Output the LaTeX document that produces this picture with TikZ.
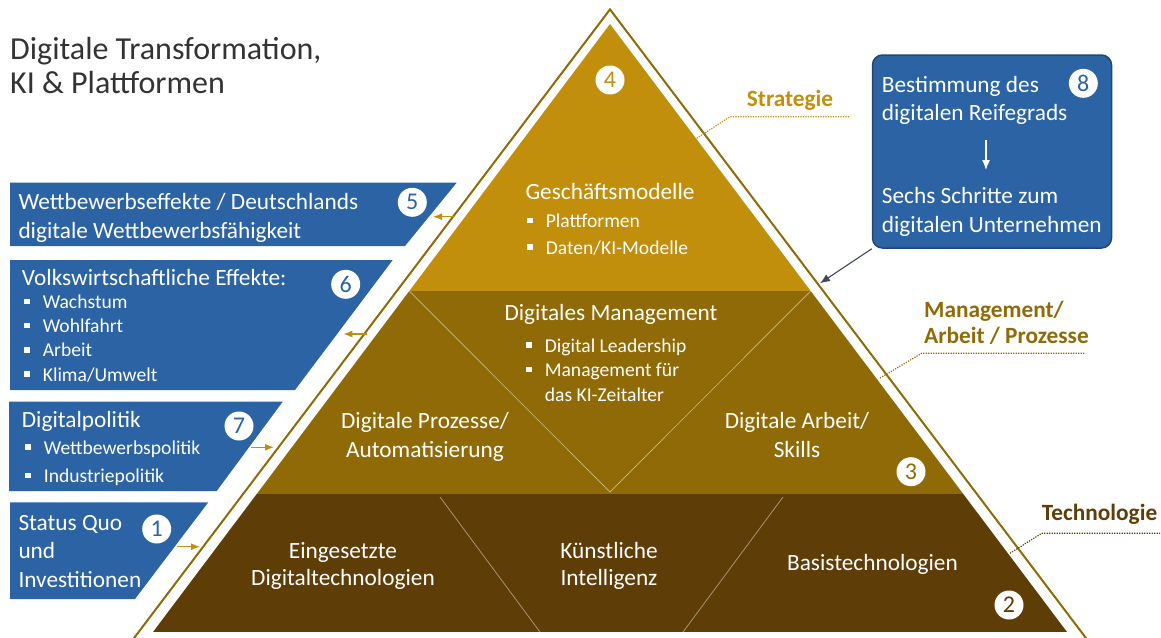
\documentclass[tikz,border=0pt]{standalone}
\usepackage{fontspec}
\setmainfont{Carlito}
\usepackage{tikz}
\usetikzlibrary{arrows.meta, positioning, calc}

\definecolor{pgold}{RGB}{193,143,11}
\definecolor{pbrown}{RGB}{144,106,6}
\definecolor{pdark}{RGB}{94,61,7}
\definecolor{pblue}{RGB}{43,99,165}
\definecolor{pblueline}{RGB}{34,70,111}
\definecolor{pslate}{RGB}{62,74,92}

\newcommand{\sqb}{\rule[0.22em]{0.3em}{0.3em}\hspace{0.65em}}
\newcommand{\sqi}{\hspace{0.95em}}

\begin{document}
\begin{tikzpicture}[
    x=1pt, y=-1pt,
    txt/.style={text=white, inner sep=0pt, align=center, font=\fontsize{23.3}{#1}\selectfont},
    txt/.default=28.4,
    bul/.style={text=white, inner sep=0pt, align=left, font=\fontsize{19.6}{#1}\selectfont},
    bul/.default=24.1,
    panel/.style={fill=pblue},
    numc/.style={circle, fill=white, minimum size=29pt, inner sep=0pt, font=\fontsize{24}{24}\selectfont},
    layerlabel/.style={inner sep=0pt, align=left, font=\fontsize{23.3}{26.7}\selectfont\bfseries},
    leader/.style={line width=1.2pt, dash pattern=on 1.2pt off 1.3pt},
    split/.style={draw=white, opacity=0.45, line width=0.8pt},
    goldarrow/.style={-{Latex[length=9pt,width=7pt]}, line width=1.3pt, draw=pgold},
    arrow/.style={-{Latex[length=10pt,width=8pt]}, line width=1.2pt}
]
    \useasboundingbox (0,0) rectangle (1161,637);

    % Title (base = last line)
    \node[inner sep=0pt, anchor=base west, align=left, text=black!80,
          font=\fontsize{32}{34.3}\selectfont] (title) at (10,93.3)
          {Digitale Transformation,\\KI \& Plattformen};

    % Pyramid outline
    \draw[pbrown, line width=2pt] (125,650) -- (610,9.4) -- (1095,650);

    % Pyramid layers
    \begin{scope}
        \clip (610,24) -- (1067,632) -- (153,632) -- cycle;
        \fill[pgold] (0,0) rectangle (1161,291);
        \fill[pbrown] (0,291) rectangle (1161,494);
        \fill[pdark] (0,494) rectangle (1161,632);
    \end{scope}

    % Inner divisions
    \draw[split] (409.3,291) -- (610,492) -- (810.7,291);
    \draw[split] (440,497) -- (540,632);
    \draw[split] (783,497) -- (683,632);

    % Strategy layer
    \node[txt, anchor=base] (gm) at (610,199.3) {Geschäftsmodelle};
    \node[bul=26.6, anchor=base west] (gmlist) at (527,254.3)
        {\sqb Plattformen\\\sqb Daten/KI-Modelle};

    % Management layer
    \node[txt, anchor=base] (dm) at (611,320.3) {Digitales Management};
    \node[bul=24.2, anchor=base west] (dmlist) at (526,401)
        {\sqb Digital Leadership\\\sqb Management für\\\sqi das KI-Zeitalter};
    \node[txt=28.3, anchor=base] (dp) at (425,457) {Digitale Prozesse/\\Automatisierung};
    \node[txt=28.3, anchor=base] (da) at (797,457) {Digitale Arbeit/\\Skills};

    % Technology layer
    \node[txt=27.3, anchor=base] (et) at (343,585.3) {Eingesetzte\\Digitaltechnologien};
    \node[txt=27.3, anchor=base] (ki) at (609,585.3) {Künstliche\\Intelligenz};
    \node[txt, anchor=base] (bt) at (872.5,570.3) {Basistechnologien};

    % Boxes on the left
    \fill[panel] (10,182.7) -- (456.7,182.7) -- (405,246) -- (10,246) -- cycle;
    \fill[panel] (10,260) -- (392.7,260) -- (295,390) -- (10,390) -- cycle;
    \fill[panel] (9,401.7) -- (282.7,401.7) -- (216.7,491) -- (9,491) -- cycle;
    \fill[panel] (10,502.3) -- (208.3,502.3) -- (135,599) -- (10,599) -- cycle;

    \node[txt=28.7, align=left, anchor=base west] (wb) at (18.3,238)
        {Wettbewerbseffekte / Deutschlands\\digitale Wettbewerbsfähigkeit};
    \node[txt, align=left, anchor=base west] (vw) at (21.7,285.3) {Volkswirtschaftliche Effekte:};
    \node[bul, anchor=base west] (vwlist) at (24,381)
        {\sqb Wachstum\\\sqb Wohlfahrt\\\sqb Arbeit\\\sqb Klima/Umwelt};
    \node[txt, align=left, anchor=base west] (dpol) at (21.7,427) {Digitalpolitik};
    \node[bul=28.4, anchor=base west] (dpollist) at (25,482.7)
        {\sqb Wettbewerbspolitik\\\sqb Industriepolitik};
    \node[txt, align=left, anchor=base west] (sq) at (18.3,587) {Status Quo\\und\\Investitionen};

    % Box on the right
    \node[rectangle, rounded corners=10pt, fill=pblue, draw=pblueline, line width=1.5pt,
          minimum width=239pt, minimum height=193pt] (reife) at (992,151.5) {};
    \node[txt=28.3, align=left, anchor=base west] (rg) at (881.7,120.3)
        {Bestimmung des\\digitalen Reifegrads};
    \node[txt=28.3, align=left, anchor=base west] (ss) at (881.7,232)
        {Sechs Schritte zum\\digitalen Unternehmen};
    \coordinate (rgs) at (986,140);
    \coordinate (sst) at (986,170);
    \draw[arrow, white, line width=1.1pt] (rgs) -- (sst);

    % Numbers
    \node[numc, text=pgold] (n4) at (610,80) {4};
    \node[numc, text=pblue] (n5) at (412.3,202.3) {5};
    \node[numc, text=pblue] (n6) at (345.7,284.3) {6};
    \node[numc, text=pblue] (n7) at (239,426) {7};
    \node[numc, text=pblue] (n1) at (156.7,529) {1};
    \node[numc, text=pblue] (n8) at (1083.3,83.3) {8};
    \node[numc, text=pbrown] (n3) at (911,471.7) {3};
    \node[numc, text=pdark] (n2) at (1009,605) {2};

    % Arrows
    \coordinate (o5) at (455,216.7);   \coordinate (b5) at (433,216.7);
    \coordinate (o6) at (366.7,334);   \coordinate (b6) at (343.3,334);
    \coordinate (b7) at (250.7,447.3); \coordinate (o7) at (274,447.3);
    \coordinate (b1) at (176.7,546.7); \coordinate (o1) at (200,546.7);
    \coordinate (o8) at (820,283.3);
    \draw[goldarrow] (o5) -- (b5);
    \draw[goldarrow] (o6) -- (b6);
    \draw[goldarrow] (b7) -- (o7);
    \draw[goldarrow] (b1) -- (o1);
    \draw[arrow, pslate, line width=1.1pt] (reife.south west) -- (o8);

    % Layer labels on the right
    \node[layerlabel, text=pgold, anchor=base west] (strat) at (746.7,106.3) {Strategie};
    \node[layerlabel, text=pbrown, anchor=base west] (mgmt) at (924,343.7) {Management/\\Arbeit / Prozesse};
    \node[layerlabel, text=pdark, anchor=base west] (tech) at (1041.7,520.3) {Technologie};

    \draw[leader, pgold] (696.7,138.3) -- (730,116.7) -- (850,116.7);
    \draw[leader, pbrown] (880,378) -- (921.7,353.3) -- (1085,353.3);
    \draw[leader, pdark] (1010,553.3) -- (1041.7,533.3) -- (1160,533.3);
\end{tikzpicture}
\end{document}
